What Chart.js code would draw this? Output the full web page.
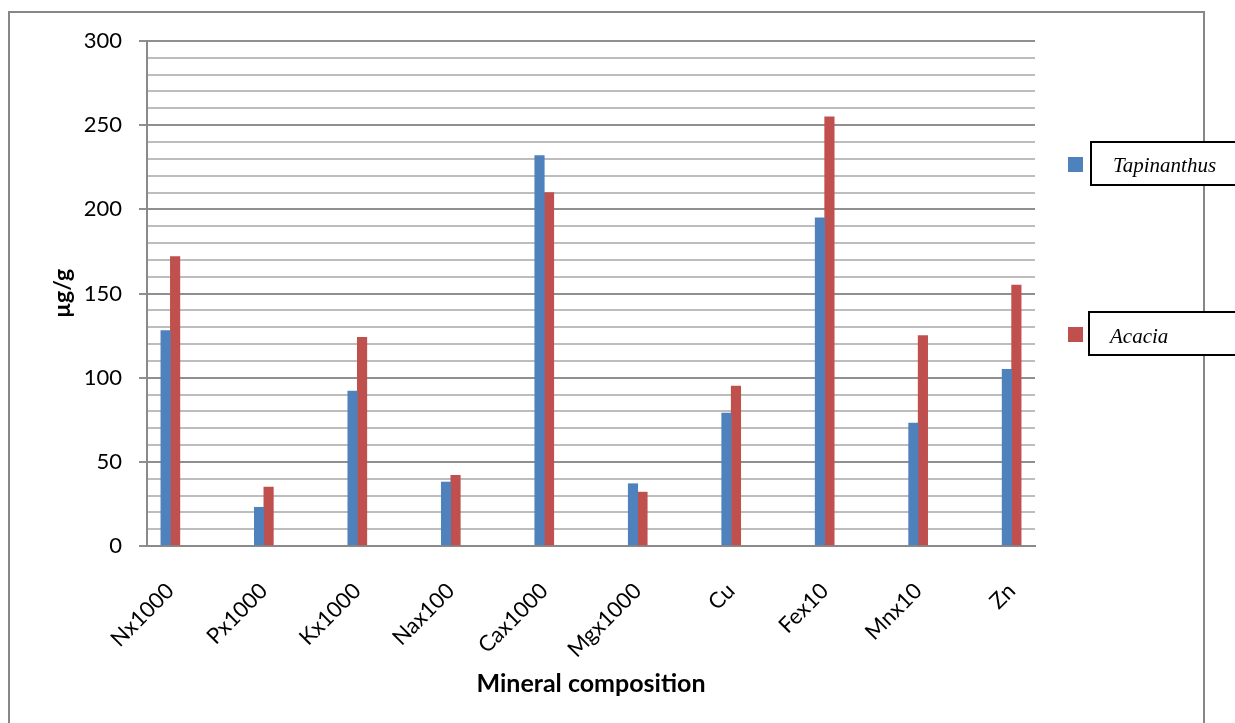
<!DOCTYPE html>
<html>
<head>
<meta charset="utf-8">
<script src="https://cdn.jsdelivr.net/npm/chart.js@4/dist/chart.umd.min.js"></script>
<style>
  html, body { margin: 0; padding: 0; background: #ffffff; }
  #wrap { position: relative; width: 1235px; height: 723px; }
</style>
</head>
<body>
<div id="wrap"><canvas id="c" width="1235" height="723"></canvas></div>
<script>
// Mineral composition of the two host plants (µg/g, scaled as named)
const categories = ['Nx1000', 'Px1000', 'Kx1000', 'Nax100', 'Cax1000', 'Mgx1000', 'Cu', 'Fex10', 'Mnx10', 'Zn'];
const tapinanthus = [128, 23, 92, 38, 232, 37, 79, 195, 73, 105];
const acacia = [172, 35, 124, 42, 210, 32, 95, 255, 125, 155];
const seriesNames = ['Tapinanthus', 'Acacia'];
const seriesColors = ['#4F81BD', '#C0504D'];
const yMin = 0, yMax = 300, yStep = 10, yLabelEvery = 50;

const FONT = 'Lato, "Open Sans", "DejaVu Sans", sans-serif';

// Outer frame of the chart object
const framePlugin = {
  id: 'frame',
  beforeDraw(chart) {
    const ctx = chart.ctx;
    ctx.save();
    ctx.fillStyle = '#ffffff';
    ctx.fillRect(0, 0, chart.width, chart.height);
    ctx.strokeStyle = '#878787';
    ctx.lineWidth = 2;
    ctx.strokeRect(9, 12, 1195, 760);
    ctx.restore();
  }
};

// Legend: coloured key square followed by a boxed, italic series name
const boxedLegend = {
  id: 'boxedLegend',
  afterDraw(chart) {
    const ctx = chart.ctx;
    const rows = [
      { keyY: 157, boxX: 1091, boxY: 142, textX: 1113, baseY: 172 },
      { keyY: 327, boxX: 1089, boxY: 312, textX: 1110, baseY: 343 }
    ];
    ctx.save();
    chart.data.datasets.forEach((ds, i) => {
      const r = rows[i];
      ctx.fillStyle = ds.backgroundColor;
      ctx.fillRect(1068, r.keyY, 15, 15);
      ctx.fillStyle = '#ffffff';
      ctx.fillRect(r.boxX, r.boxY, 160, 43);
      ctx.strokeStyle = '#000000';
      ctx.lineWidth = 2;
      ctx.strokeRect(r.boxX, r.boxY, 160, 43);
      ctx.fillStyle = '#000000';
      ctx.font = 'italic 21px "Liberation Serif", "DejaVu Serif", serif';
      ctx.textAlign = 'left';
      ctx.textBaseline = 'alphabetic';
      ctx.fillText(ds.label, r.textX, r.baseY);
    });
    ctx.restore();
  }
};

const toPoints = arr => arr.map((v, i) => ({ x: i, y: v }));

new Chart(document.getElementById('c'), {
  type: 'bar',
  data: {
    datasets: [
      { label: seriesNames[0], data: toPoints(tapinanthus), backgroundColor: seriesColors[0], borderWidth: 0 },
      { label: seriesNames[1], data: toPoints(acacia), backgroundColor: seriesColors[1], borderWidth: 0 }
    ]
  },
  options: {
    responsive: false,
    animation: false,
    layout: { padding: { left: 0, right: 200, top: 41, bottom: 0 } },
    datasets: { bar: { barThickness: 9.5, grouped: true } },
    plugins: {
      legend: { display: false },
      tooltip: { enabled: false }
    },
    scales: {
      x: {
        type: 'linear',
        offset: false,
        min: -0.25,
        max: 9.25,
        afterBuildTicks(scale) {
          scale.ticks = categories.map((_, i) => ({ value: i }));
        },
        afterFit(scale) { scale.height = 177; },
        grid: { display: false },
        border: { display: true, color: '#8a8a8a', width: 2 },
        ticks: {
          autoSkip: false,
          minRotation: 45,
          maxRotation: 45,
          padding: 24,
          color: '#000000',
          font: { family: FONT, size: 22 },
          callback: v => categories[v]
        },
        title: {
          display: true,
          text: 'Mineral composition',
          color: '#000000',
          font: { family: FONT, size: 25, weight: 'bold' },
          padding: { top: 0, bottom: 24 }
        }
      },
      y: {
        min: yMin,
        max: yMax,
        afterFit(scale) { scale.width = 147; },
        ticks: {
          stepSize: yStep,
          autoSkip: false,
          padding: 17,
          color: '#000000',
          font: { family: FONT, size: 22 },
          callback: v => (v % yLabelEvery === 0 ? String(v) : '')
        },
        grid: {
          lineWidth: 2,
          tickLength: 8,
          color: c => (c.tick && c.tick.value % yLabelEvery === 0 ? '#8f8f8f' : '#bdbdbd'),
          tickColor: c => (c.tick && c.tick.value % yLabelEvery === 0 ? '#8f8f8f' : 'rgba(0,0,0,0)')
        },
        border: { display: true, color: '#8a8a8a', width: 2 },
        title: {
          display: true,
          text: 'µg/g',
          color: '#000000',
          font: { family: FONT, size: 23, weight: 'bold' },
          padding: { top: 49, bottom: 0 }
        }
      }
    }
  },
  plugins: [framePlugin, boxedLegend]
});
</script>
</body>
</html>
